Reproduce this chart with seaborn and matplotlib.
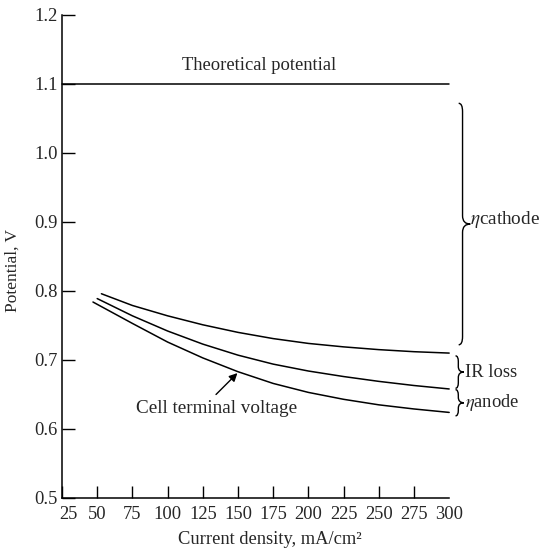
import matplotlib
matplotlib.use("Agg")
import matplotlib.pyplot as plt
import matplotlib.transforms as mtransforms
from matplotlib.path import Path
from matplotlib.patches import PathPatch
import seaborn as sns
import pandas as pd

# current density (mA/cm2) and potentials (V)
theory_x = [25, 300]
theory_v = [1.10, 1.10]

upper_x = [53, 75, 100, 125, 150, 175, 200, 225, 250, 275, 300]
upper_v = [0.796, 0.779, 0.764, 0.751, 0.740, 0.731, 0.724, 0.719, 0.715, 0.712, 0.710]

middle_x = [50, 75, 100, 125, 150, 175, 200, 225, 250, 275, 300]
middle_v = [0.789, 0.764, 0.742, 0.723, 0.707, 0.694, 0.684, 0.676, 0.669, 0.663, 0.658]

cell_x = [47, 75, 100, 125, 150, 175, 200, 225, 250, 275, 300]
cell_v = [0.784, 0.753, 0.726, 0.703, 0.683, 0.666, 0.653, 0.643, 0.635, 0.629, 0.624]

x_ticks = [25, 50, 75, 100, 125, 150, 175, 200, 225, 250, 275, 300]
y_ticks = [0.5, 0.6, 0.7, 0.8, 0.9, 1.0, 1.1, 1.2]

sns.set_style("ticks")
plt.rcParams['font.family'] = ['Liberation Serif', 'DejaVu Serif']
plt.rcParams['mathtext.fontset'] = 'stix'

FS = 13.3


def draw_brace(ax, x, y0, y1, w, r):
    """Right-pointing curly brace between y0 and y1 at data x."""
    ym = (y0 + y1) / 2
    verts = [
        (x - w * 0.5, y1), (x, y1), (x, y1 - r),
        (x, ym + r),
        (x, ym), (x + w, ym),
        (x, ym), (x, ym - r),
        (x, y0 + r),
        (x, y0), (x - w * 0.5, y0),
    ]
    codes = [Path.MOVETO, Path.CURVE3, Path.CURVE3,
             Path.LINETO,
             Path.CURVE3, Path.CURVE3,
             Path.CURVE3, Path.CURVE3,
             Path.LINETO,
             Path.CURVE3, Path.CURVE3]
    patch = PathPatch(Path(verts, codes), fill=False, lw=1.0,
                      color='black', clip_on=False)
    ax.add_patch(patch)


fig = plt.figure(figsize=(5.4, 5.53), dpi=100)
ax = fig.add_axes([0.1148, 0.0995, 0.717, 0.8734])

curves = [
    (theory_x, theory_v),
    (upper_x, upper_v),
    (middle_x, middle_v),
    (cell_x, cell_v),
]
for xs, vs in curves:
    df = pd.DataFrame({'current': xs, 'potential': vs})
    sns.lineplot(data=df, x='current', y='potential', ax=ax,
                 color='black', lw=1.1, clip_on=False)

ax.set_xlim(25, 300)
ax.set_ylim(0.5, 1.2)
ax.set_xticks(x_ticks)
ax.set_xticklabels([str(t) for t in x_ticks], fontsize=FS)
ax.set_yticks(y_ticks)
ax.set_yticklabels([f'{t:.1f}' for t in y_ticks], fontsize=FS)
ax.tick_params(direction='in', length=9, width=1.0, color='black')
ax.tick_params(axis='x', pad=6)
ax.tick_params(axis='y', pad=3)
ax.xaxis.get_major_ticks()[-1].tick1line.set_visible(False)
# first x label sits a little right of the corner in the original
first = ax.get_xticklabels()[0]
first.set_transform(first.get_transform() +
                    mtransforms.ScaledTranslation(6 / 100, 0, fig.dpi_scale_trans))
for side in ['top', 'right']:
    ax.spines[side].set_visible(False)
for side in ['left', 'bottom']:
    ax.spines[side].set_linewidth(1.1)
    ax.spines[side].set_color('black')

ax.set_xlabel('Current density, mA/cm²', fontsize=FS)
ax.xaxis.set_label_coords(0.537, -0.068)
ax.set_ylabel('Potential, V', fontsize=FS - 0.8)
ax.yaxis.set_label_coords(-0.108, 0.47)

ax.text(165, 1.127, 'Theoretical potential', fontsize=FS, ha='center', va='center')

ax.text(134.6, 0.629, 'Cell terminal voltage', fontsize=FS + 0.5, ha='center', va='center')
ax.annotate('', xy=(149.6, 0.681), xytext=(134.4, 0.650),
            arrowprops=dict(arrowstyle='-|>', color='black', lw=1.0,
                            shrinkA=0, shrinkB=0, mutation_scale=12))

draw_brace(ax, 309.5, 0.722, 1.072, 5.5, 0.012)
draw_brace(ax, 306.5, 0.659, 0.706, 4.0, 0.008)
draw_brace(ax, 306.5, 0.619, 0.657, 4.0, 0.008)

ax.text(315.0, 0.903, r'$\eta$cathode', fontsize=FS + 0.5, ha='left', va='center', clip_on=False)
ax.text(311.5, 0.682, 'IR loss', fontsize=FS, ha='left', va='center', clip_on=False)
ax.text(311.5, 0.638, r'$\eta$anode', fontsize=FS, ha='left', va='center', clip_on=False)

fig.savefig('out.png', dpi=100)
